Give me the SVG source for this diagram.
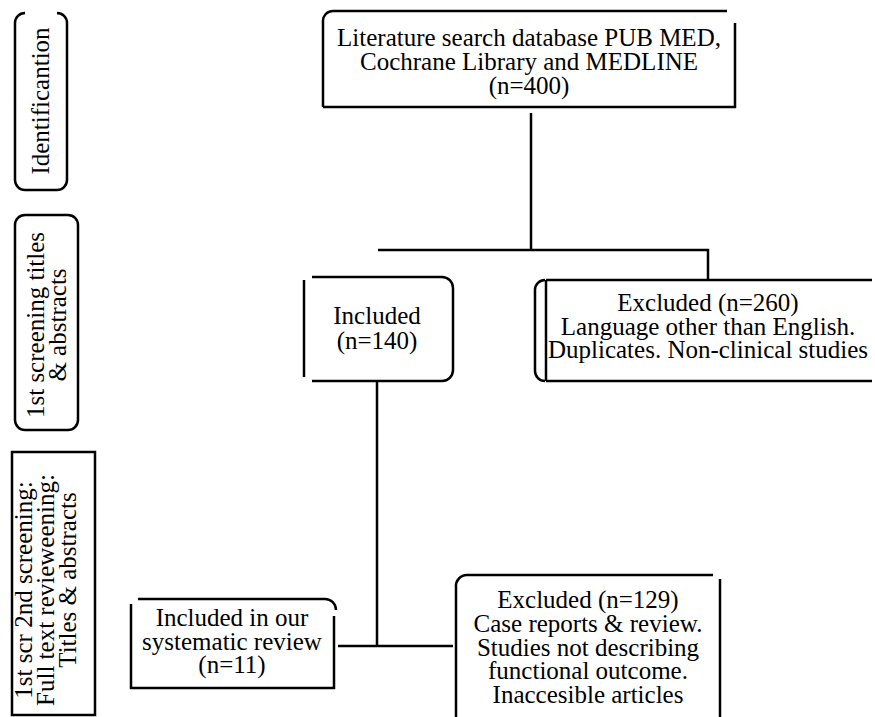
<svg xmlns="http://www.w3.org/2000/svg" width="875" height="717" viewBox="0 0 875 717">
<style>
.b{fill:none;stroke:#000;stroke-width:2.5;stroke-linecap:butt}
.t{font-family:"Liberation Serif","Times New Roman",serif;font-size:25px;fill:#000;text-anchor:middle}
.c{fill:none;stroke:#000;stroke-width:2.5}
</style>
<rect width="875" height="717" fill="#fff"/>
<g id="stage-identification">
<path class="b" d="M25 13 A10 10 0 0 0 15 23 V180 A10 10 0 0 0 25 190 H57 A10 10 0 0 0 67 180 V23 A10 10 0 0 0 57 13"/>
<text class="t" transform="translate(49 101) rotate(-90)">Identificantion</text>
</g>
<g id="stage-screening1">
<rect class="b" x="15" y="215" width="63" height="215" rx="10" ry="10"/>
<text class="t" transform="translate(44 325) rotate(-90)">1st screening titles</text>
<text class="t" transform="translate(66 325) rotate(-90)">&amp; abstracts</text>
</g>
<g id="stage-screening2">
<rect class="b" x="12" y="452" width="83" height="263"/>
<text class="t" transform="translate(32 590) rotate(-90)">1st scr 2nd screening:</text>
<text class="t" transform="translate(54 590) rotate(-90)">Full text revieweening:</text>
<text class="t" transform="translate(76 580) rotate(-90)">Titles &amp; abstracts</text>
</g>
<g id="search">
<path class="b" d="M323 107 V22 A10 10 0 0 1 333 11 H727"/>
<path class="b" d="M735 23 V107 H323"/>
<text class="t" x="529" y="46">Literature search database PUB MED,</text>
<text class="t" x="529" y="70">Cochrane Library and MEDLINE</text>
<text class="t" x="529" y="94">(n=400)</text>
</g>
<g id="included140">
<path class="b" d="M304 280 V377"/>
<path class="b" d="M312 277 H442 A11 11 0 0 1 453 288 V370 A11 11 0 0 1 442 381 H312"/>
<text class="t" x="377" y="324">Included</text>
<text class="t" x="377" y="349">(n=140)</text>
</g>
<g id="excluded260">
<path class="b" d="M545 280 A10 10 0 0 0 535 290 V371 A10 10 0 0 0 545 381"/>
<path class="b" d="M546 280 V381"/>
<path class="b" d="M546 280 H872 M546 381 H872"/>
<text class="t" x="708" y="311">Excluded (n=260)</text>
<text class="t" x="708" y="335">Language other than English.</text>
<text class="t" x="708" y="358">Duplicates. Non-clinical studies</text>
</g>
<g id="included11">
<path class="b" d="M138 599 H325 A11 11 0 0 1 336 610"/>
<path class="b" d="M131 604 V688 H334 V616"/>
<text class="t" x="232" y="626">Included in our</text>
<text class="t" x="232" y="650">systematic review</text>
<text class="t" x="232" y="673">(n=11)</text>
</g>
<g id="excluded129">
<path class="b" d="M456 717 V587 A11 11 0 0 1 467 575 H713"/>
<path class="b" d="M720 579 V717"/>
<text class="t" x="588" y="608">Excluded (n=129)</text>
<text class="t" x="588" y="632">Case reports &amp; review.</text>
<text class="t" x="588" y="656">Studies not describing</text>
<text class="t" x="588" y="679">functional outcome.</text>
<text class="t" x="588" y="703">Inaccesible articles</text>
</g>
<g id="connectors">
<path class="c" d="M531 113 V250"/>
<path class="c" d="M378 250 H708 V279"/>
<path class="c" d="M377 382 V646"/>
<path class="c" d="M338 646 H453"/>
</g>
</svg>
